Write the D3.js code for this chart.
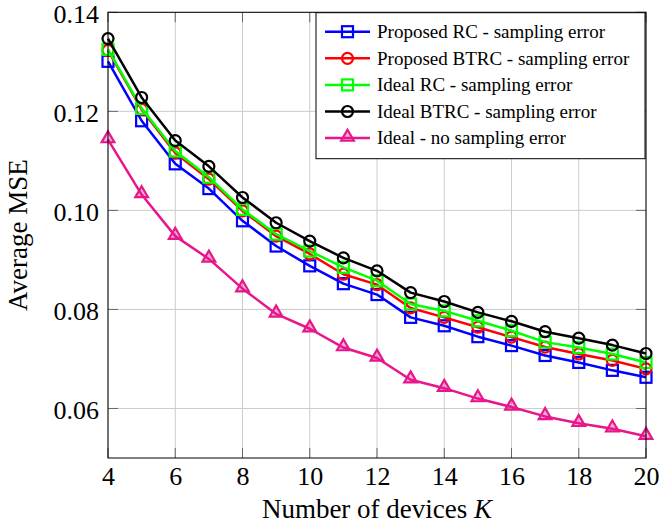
<!DOCTYPE html>
<html>
<head>
<meta charset="utf-8">
<script src="https://cdn.jsdelivr.net/npm/d3@7"></script>
<style>
  body { margin: 0; background: #fff; }
  text { font-family: "Liberation Serif", "Times New Roman", serif; }
</style>
</head>
<body>
<script>
// data
let devices = [4, 5, 6, 7, 8, 9, 10, 11, 12, 13, 14, 15, 16, 17, 18, 19, 20];

let proposedRC   = [0.1301, 0.1181, 0.1094, 0.1044, 0.0979, 0.0928, 0.0888, 0.0852, 0.0830, 0.0784, 0.0767, 0.0745, 0.0727, 0.0707, 0.0693, 0.0677, 0.0663];
let proposedBTRC = [0.1323, 0.1204, 0.1116, 0.1063, 0.0999, 0.0948, 0.0912, 0.0871, 0.0850, 0.0803, 0.0784, 0.0764, 0.0744, 0.0724, 0.0710, 0.0697, 0.0680];
let idealRC      = [0.1325, 0.1206, 0.1120, 0.1067, 0.1002, 0.0952, 0.0918, 0.0885, 0.0858, 0.0811, 0.0797, 0.0777, 0.0757, 0.0734, 0.0723, 0.0710, 0.0693];
let idealBTRC    = [0.1347, 0.1228, 0.1141, 0.1089, 0.1026, 0.0975, 0.0938, 0.0904, 0.0878, 0.0834, 0.0816, 0.0794, 0.0776, 0.0755, 0.0742, 0.0728, 0.0711];
let idealNoErr   = [0.1143, 0.1032, 0.0948, 0.0902, 0.0842, 0.0791, 0.0761, 0.0723, 0.0702, 0.0658, 0.0641, 0.0620, 0.0603, 0.0584, 0.0570, 0.0559, 0.0544];

let seriesNames = [
  "Proposed RC - sampling error",
  "Proposed BTRC - sampling error",
  "Ideal RC - sampling error",
  "Ideal BTRC - sampling error",
  "Ideal - no sampling error"
];

let xTicks = [4, 6, 8, 10, 12, 14, 16, 18, 20];
let yTicks = [0.06, 0.08, 0.10, 0.12, 0.14];

let series = [
  { name: seriesNames[0], values: proposedRC,   color: "#0000ff", mark: "square" },
  { name: seriesNames[1], values: proposedBTRC, color: "#ff0000", mark: "circle" },
  { name: seriesNames[2], values: idealRC,      color: "#00ff00", mark: "square" },
  { name: seriesNames[3], values: idealBTRC,    color: "#000000", mark: "circle" },
  { name: seriesNames[4], values: idealNoErr,   color: "#e8168b", mark: "triangle" }
];

let width = 659,
    height = 529;

let margin = { top: 12.3, right: 13, bottom: 71, left: 108 };
let w = width - margin.left - margin.right,
    h = height - margin.top - margin.bottom;

let svg = d3.select("body")
    .append("svg")
    .attr("width", width)
    .attr("height", height)
    .append("g")
    .attr("transform", "translate(" + margin.left + "," + margin.top + ")");

let x = d3.scaleLinear().domain([4, 20]).range([0, w]);
let y = d3.scaleLinear().domain([0.05, 0.14]).range([h, 0]);

// grid
svg.append("g")
    .selectAll("line")
    .data(xTicks)
    .enter().append("line")
    .attr("x1", d => x(d)).attr("x2", d => x(d))
    .attr("y1", 0).attr("y2", h)
    .attr("stroke", "#cccccc").attr("stroke-width", 1);

svg.append("g")
    .selectAll("line")
    .data(yTicks)
    .enter().append("line")
    .attr("x1", 0).attr("x2", w)
    .attr("y1", d => y(d)).attr("y2", d => y(d))
    .attr("stroke", "#cccccc").attr("stroke-width", 1);

// inner ticks on all four sides
let tickLen = 10;
let tk = svg.append("g").attr("stroke", "#666").attr("stroke-width", 1);
xTicks.forEach(d => {
  tk.append("line").attr("x1", x(d)).attr("x2", x(d)).attr("y1", h).attr("y2", h - tickLen);
  tk.append("line").attr("x1", x(d)).attr("x2", x(d)).attr("y1", 0).attr("y2", tickLen);
});
yTicks.forEach(d => {
  tk.append("line").attr("x1", 0).attr("x2", tickLen).attr("y1", y(d)).attr("y2", y(d));
  tk.append("line").attr("x1", w).attr("x2", w - tickLen).attr("y1", y(d)).attr("y2", y(d));
});

// axes, labels only
let xAxis = svg.append("g")
    .attr("transform", "translate(0," + h + ")")
    .call(d3.axisBottom(x).tickValues(xTicks).tickSize(0).tickPadding(9).tickFormat(d3.format("d")));
let yAxis = svg.append("g")
    .call(d3.axisLeft(y).tickValues(yTicks).tickSize(0).tickPadding(9).tickFormat(d3.format(".2f")));

[xAxis, yAxis].forEach(a => {
  a.select(".domain").remove();
  a.selectAll("text")
    .style("font-family", "'Liberation Serif', serif")
    .style("font-size", "26px")
    .attr("fill", "#000");
});
xAxis.selectAll("text").attr("dy", "0.70em");
yAxis.selectAll("text").attr("dy", "0.38em");

// series
let line = d3.line()
    .x((d, i) => x(devices[i]))
    .y(d => y(d));

function drawMark(g, type, color, cx, cy) {
  if (type === "square") {
    g.append("rect")
      .attr("x", cx - 5.5).attr("y", cy - 5.5)
      .attr("width", 11).attr("height", 11)
      .attr("fill", "none").attr("stroke", color).attr("stroke-width", 2.2);
  } else if (type === "circle") {
    g.append("circle")
      .attr("cx", cx).attr("cy", cy).attr("r", 5.5)
      .attr("fill", "none").attr("stroke", color).attr("stroke-width", 2.2);
  } else {
    g.append("path")
      .attr("d", d3.symbol().type(d3.symbolTriangle).size(70)())
      .attr("transform", "translate(" + cx + "," + (cy - 1) + ")")
      .attr("fill", color).attr("fill-opacity", 0.35)
      .attr("stroke", color).attr("stroke-width", 2.2);
  }
}

series.forEach(s => {
  let g = svg.append("g");
  g.append("path")
    .datum(s.values)
    .attr("d", line)
    .attr("fill", "none")
    .attr("stroke", s.color)
    .attr("stroke-width", 2.5)
    .attr("stroke-linejoin", "round");
  s.values.forEach((v, i) => drawMark(g, s.mark, s.color, x(devices[i]), y(v)));
});

// frame
svg.append("rect")
    .attr("width", w).attr("height", h)
    .attr("fill", "none").attr("stroke", "#000").attr("stroke-width", 1);

// axis titles
let xt = svg.append("text")
    .attr("x", w / 2)
    .attr("y", h + 60)
    .style("text-anchor", "middle")
    .style("font-size", "27px");
xt.append("tspan").text("Number of devices ");
xt.append("tspan").style("font-style", "italic").text("K");

svg.append("text")
    .attr("x", -h / 2)
    .attr("y", -81)
    .attr("transform", "rotate(-90)")
    .style("text-anchor", "middle")
    .style("font-size", "27px")
    .text("Average MSE");

// legend
let lx = 316 - margin.left,
    ly = 12.7 - margin.top;
let legend = svg.append("g").attr("transform", "translate(" + lx + "," + ly + ")");
legend.append("rect")
    .attr("width", 329).attr("height", 146)
    .attr("fill", "#fff").attr("stroke", "#000").attr("stroke-width", 1);

series.forEach((s, i) => {
  let cy = 19 + i * 26.6;
  legend.append("line")
    .attr("x1", 9).attr("x2", 54)
    .attr("y1", cy).attr("y2", cy)
    .attr("stroke", s.color).attr("stroke-width", 2.5);
  drawMark(legend, s.mark, s.color, 31.5, cy);
  legend.append("text")
    .attr("x", 61)
    .attr("y", cy)
    .attr("dy", "0.33em")
    .style("font-size", "19px")
    .text(s.name);
});
</script>
</body>
</html>
